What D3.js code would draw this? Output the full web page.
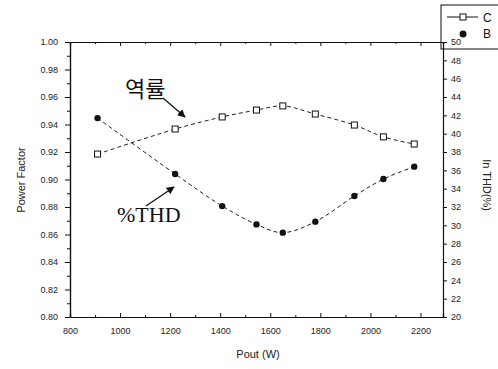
<!DOCTYPE html>
<html><head><meta charset="utf-8">
<script src="https://cdn.jsdelivr.net/npm/d3@7"></script>
<style>body{margin:0;background:#fff}</style>
</head><body>
<script>
const pout = [910, 1220, 1408, 1545, 1650, 1780, 1936, 2052, 2175];
const powerFactor = [0.9185, 0.9367, 0.9455, 0.9505, 0.9535, 0.9476, 0.9396, 0.931, 0.9258];
const thd = [41.7, 35.6, 32.1, 30.1, 29.2, 30.4, 33.2, 35.05, 36.4];
const xTicks = [800, 1000, 1200, 1400, 1600, 1800, 2000, 2200];
const pfTicks = [0.80, 0.82, 0.84, 0.86, 0.88, 0.90, 0.92, 0.94, 0.96, 0.98, 1.00];
const thdTicks = [20, 22, 24, 26, 28, 30, 32, 34, 36, 38, 40, 42, 44, 46, 48, 50];

const W = 498, H = 369;
const L = 70, R = 443, T = 42, B = 317;
const svg = d3.select("body").append("svg").attr("width", W).attr("height", H)
  .style("font-family", "Arial, 'Liberation Sans', sans-serif");

const x = d3.scaleLinear().domain([800, 2290]).range([L, R]);
const yL = d3.scaleLinear().domain([0.80, 1.00]).range([B, T]);
const yR = d3.scaleLinear().domain([20, 50]).range([B, T]);

const fs = 9;
// bottom axis
const xb = svg.append("g").attr("transform", `translate(0,${B})`)
  .call(d3.axisBottom(x).tickValues(xTicks).tickSize(-4).tickPadding(11).tickFormat(d3.format("d")));
xb.selectAll("text").attr("font-size", fs).attr("fill", "#222");
svg.append("g").attr("transform", `translate(0,${B})`)
  .call(d3.axisBottom(x).tickValues(d3.range(900, 2290, 200)).tickSize(-2).tickFormat(""));
// top axis
svg.append("g").attr("transform", `translate(0,${T})`)
  .call(d3.axisTop(x).tickValues(xTicks).tickSize(-4).tickFormat(""));
svg.append("g").attr("transform", `translate(0,${T})`)
  .call(d3.axisTop(x).tickValues(d3.range(900, 2290, 200)).tickSize(-2).tickFormat(""));
// left axis
const yl = svg.append("g").attr("transform", `translate(${L},0)`)
  .call(d3.axisLeft(yL).tickValues(pfTicks).tickSize(5).tickPadding(7).tickFormat(d3.format(".2f")));
yl.selectAll("text").attr("font-size", fs).attr("fill", "#222");
svg.append("g").attr("transform", `translate(${L},0)`)
  .call(d3.axisLeft(yL).tickValues(d3.range(0.81, 1.0, 0.02)).tickSize(3).tickFormat(""));
// right axis
const yr = svg.append("g").attr("transform", `translate(${R},0)`)
  .call(d3.axisRight(yR).tickValues(thdTicks).tickSize(4).tickPadding(4).tickFormat(d3.format("d")));
yr.selectAll("text").attr("font-size", fs).attr("fill", "#222");

svg.selectAll(".domain").attr("stroke", "#111").attr("stroke-width", 1.2);
svg.selectAll(".tick line").attr("stroke", "#111");

// axis titles
svg.append("text").attr("x", 258).attr("y", 358).attr("text-anchor", "middle")
  .attr("font-size", 11).attr("fill", "#222").text("Pout (W)");
svg.append("text").attr("transform", "translate(25,180) rotate(-90)").attr("text-anchor", "middle")
  .attr("font-size", 11).attr("fill", "#222").text("Power Factor");
svg.append("text").attr("transform", "translate(483,185) rotate(90)").attr("text-anchor", "middle")
  .attr("font-size", 11).attr("fill", "#222").text("In THD(%)");

// lines
const pfData = pout.map((p, i) => [p, powerFactor[i]]);
const thdData = pout.map((p, i) => [p, thd[i]]);
svg.append("path").datum(pfData).attr("fill", "none").attr("stroke", "#222").attr("stroke-width", 1)
  .attr("stroke-dasharray", "4,3")
  .attr("d", d3.line().x(d => x(d[0])).y(d => yL(d[1])).curve(d3.curveCatmullRom));
svg.append("path").datum(thdData).attr("fill", "none").attr("stroke", "#222").attr("stroke-width", 1)
  .attr("stroke-dasharray", "4,3")
  .attr("d", d3.line().x(d => x(d[0])).y(d => yR(d[1])).curve(d3.curveCatmullRom));

svg.selectAll(".sq").data(pfData).enter().append("rect")
  .attr("x", d => x(d[0]) - 3).attr("y", d => yL(d[1]) - 3).attr("width", 6).attr("height", 6)
  .attr("fill", "#fff").attr("stroke", "#111").attr("stroke-width", 1);
svg.selectAll(".dot").data(thdData).enter().append("circle")
  .attr("cx", d => x(d[0])).attr("cy", d => yR(d[1])).attr("r", 3.2).attr("fill", "#111");

// annotations
const defs = svg.append("defs");
defs.append("marker").attr("id", "ah").attr("viewBox", "0 0 10 10").attr("refX", 9).attr("refY", 5)
  .attr("markerWidth", 8).attr("markerHeight", 8).attr("markerUnits", "userSpaceOnUse").attr("orient", "auto")
  .append("path").attr("d", "M0,0 L10,5 L0,10 z").attr("fill", "#111");
svg.append("text").attr("x", 125).attr("y", 97).attr("font-size", 22)
  .attr("font-family", "'Noto Sans CJK KR', sans-serif").attr("fill", "#111").text("역률");
svg.append("line").attr("x1", 163).attr("y1", 98).attr("x2", 185).attr("y2", 117)
  .attr("stroke", "#111").attr("stroke-width", 1.3).attr("marker-end", "url(#ah)");
svg.append("text").attr("x", 117).attr("y", 222).attr("font-size", 22)
  .attr("font-family", "'Liberation Serif', 'DejaVu Serif', serif").attr("fill", "#111").text("%THD");
svg.append("line").attr("x1", 146).attr("y1", 206).attr("x2", 174).attr("y2", 187)
  .attr("stroke", "#111").attr("stroke-width", 1.3).attr("marker-end", "url(#ah)");

// legend
svg.append("rect").attr("x", 441).attr("y", 5).attr("width", 60).attr("height", 44)
  .attr("fill", "none").attr("stroke", "#111").attr("stroke-width", 1);
svg.append("line").attr("x1", 447).attr("x2", 478).attr("y1", 17).attr("y2", 17).attr("stroke", "#111");
svg.append("rect").attr("x", 460).attr("y", 14).attr("width", 6).attr("height", 6)
  .attr("fill", "#fff").attr("stroke", "#111");
svg.append("text").attr("x", 483).attr("y", 22).attr("font-size", 12).attr("fill", "#111").text("C");
svg.append("circle").attr("cx", 463).attr("cy", 34).attr("r", 3.5).attr("fill", "#111");
svg.append("text").attr("x", 483).attr("y", 38).attr("font-size", 12).attr("fill", "#111").text("B");
</script>
</body></html>
